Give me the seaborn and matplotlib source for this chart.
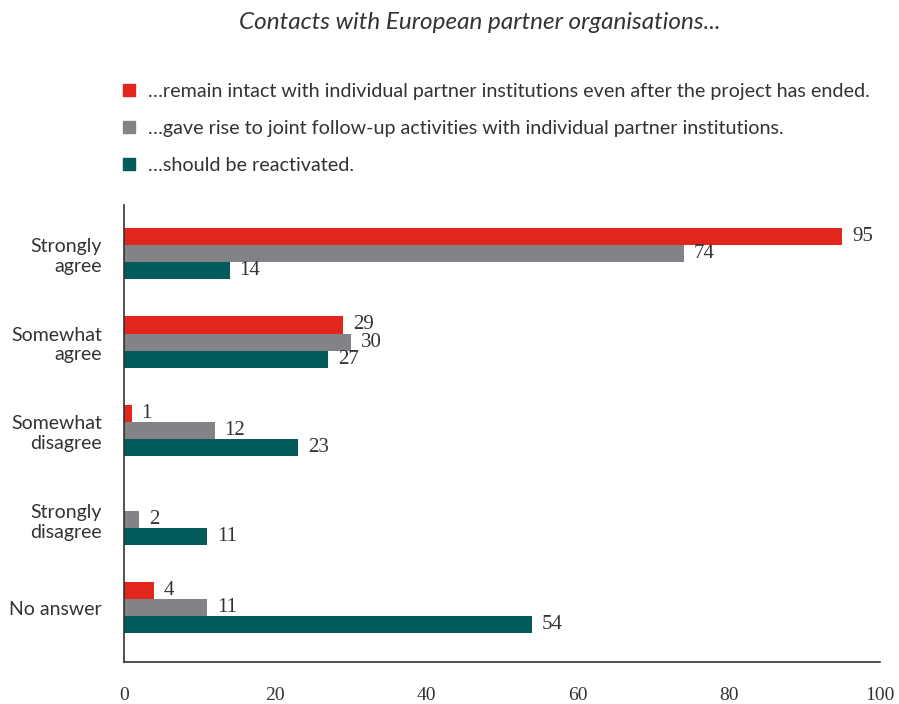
import matplotlib
matplotlib.use("Agg")
import matplotlib.pyplot as plt
from matplotlib.lines import Line2D
import seaborn as sns
import pandas as pd

categories = ["Strongly\nagree", "Somewhat\nagree", "Somewhat\ndisagree", "Strongly\ndisagree", "No answer"]
series_names = [
    "…remain intact with individual partner institutions even after the project has ended.",
    "…gave rise to joint follow-up activities with individual partner institutions.",
    "…should be reactivated.",
]
remain_intact = [95, 29, 1, 0, 4]
follow_up = [74, 30, 12, 2, 11]
reactivated = [14, 27, 23, 11, 54]
x_ticks = [0, 20, 40, 60, 80, 100]
colors = ["#E3261C", "#838387", "#035B5B"]
title = "Contacts with European partner organisations..."

rows = []
for name, vals in zip(series_names, [remain_intact, follow_up, reactivated]):
    for cat, v in zip(categories, vals):
        rows.append({"category": cat, "series": name, "value": v})
df = pd.DataFrame(rows)

sns.set_style("white")
plt.rcParams["font.family"] = ["Lato", "DejaVu Sans"]
text_color = "#333333"
serif = ["Liberation Serif", "DejaVu Serif"]

fig = plt.figure(figsize=(8.99, 7.04), dpi=100)
ax = fig.add_axes([0.138, 0.06, 0.841, 0.649])

sns.barplot(data=df, y="category", x="value", hue="series", order=categories,
            hue_order=series_names, palette=colors, orient="h", width=0.58,
            saturation=1, linewidth=0, ax=ax, legend=False)

for container in ax.containers:
    labels = [f"{int(b.get_width())}" if b.get_width() > 0 else "" for b in container]
    ax.bar_label(container, labels=labels, padding=7, fontsize=15,
                 family=serif, color=text_color)

ax.set_xlim(0, 100)
ax.set_ylim(4.61, -0.55)
ax.set_xticks(x_ticks)
ax.set_xticklabels([str(t) for t in x_ticks], family=serif, fontsize=14, color=text_color)
ax.tick_params(axis="x", direction="in", length=8, width=1.2, color=text_color, pad=18)
ax.tick_params(axis="y", length=0, labelsize=14, labelcolor=text_color, pad=16)
ax.set_xlabel("")
ax.set_ylabel("")
for s in ["top", "right"]:
    ax.spines[s].set_visible(False)
for s in ["left", "bottom"]:
    ax.spines[s].set_color(text_color)
    ax.spines[s].set_linewidth(1.2)

handles = [Line2D([0], [0], marker="s", linestyle="", markersize=8, color=c) for c in colors]
fig.legend(handles, series_names, loc="upper left", bbox_to_anchor=(0.127, 0.893),
           frameon=False, fontsize=14.2, labelcolor=text_color, handlelength=0.7,
           handletextpad=0.6, labelspacing=1.0, borderaxespad=0)

fig.text(0.534, 0.968, title, ha="center", va="center", fontsize=17.5, style="italic", color=text_color)

fig.savefig("out.png", dpi=100)
